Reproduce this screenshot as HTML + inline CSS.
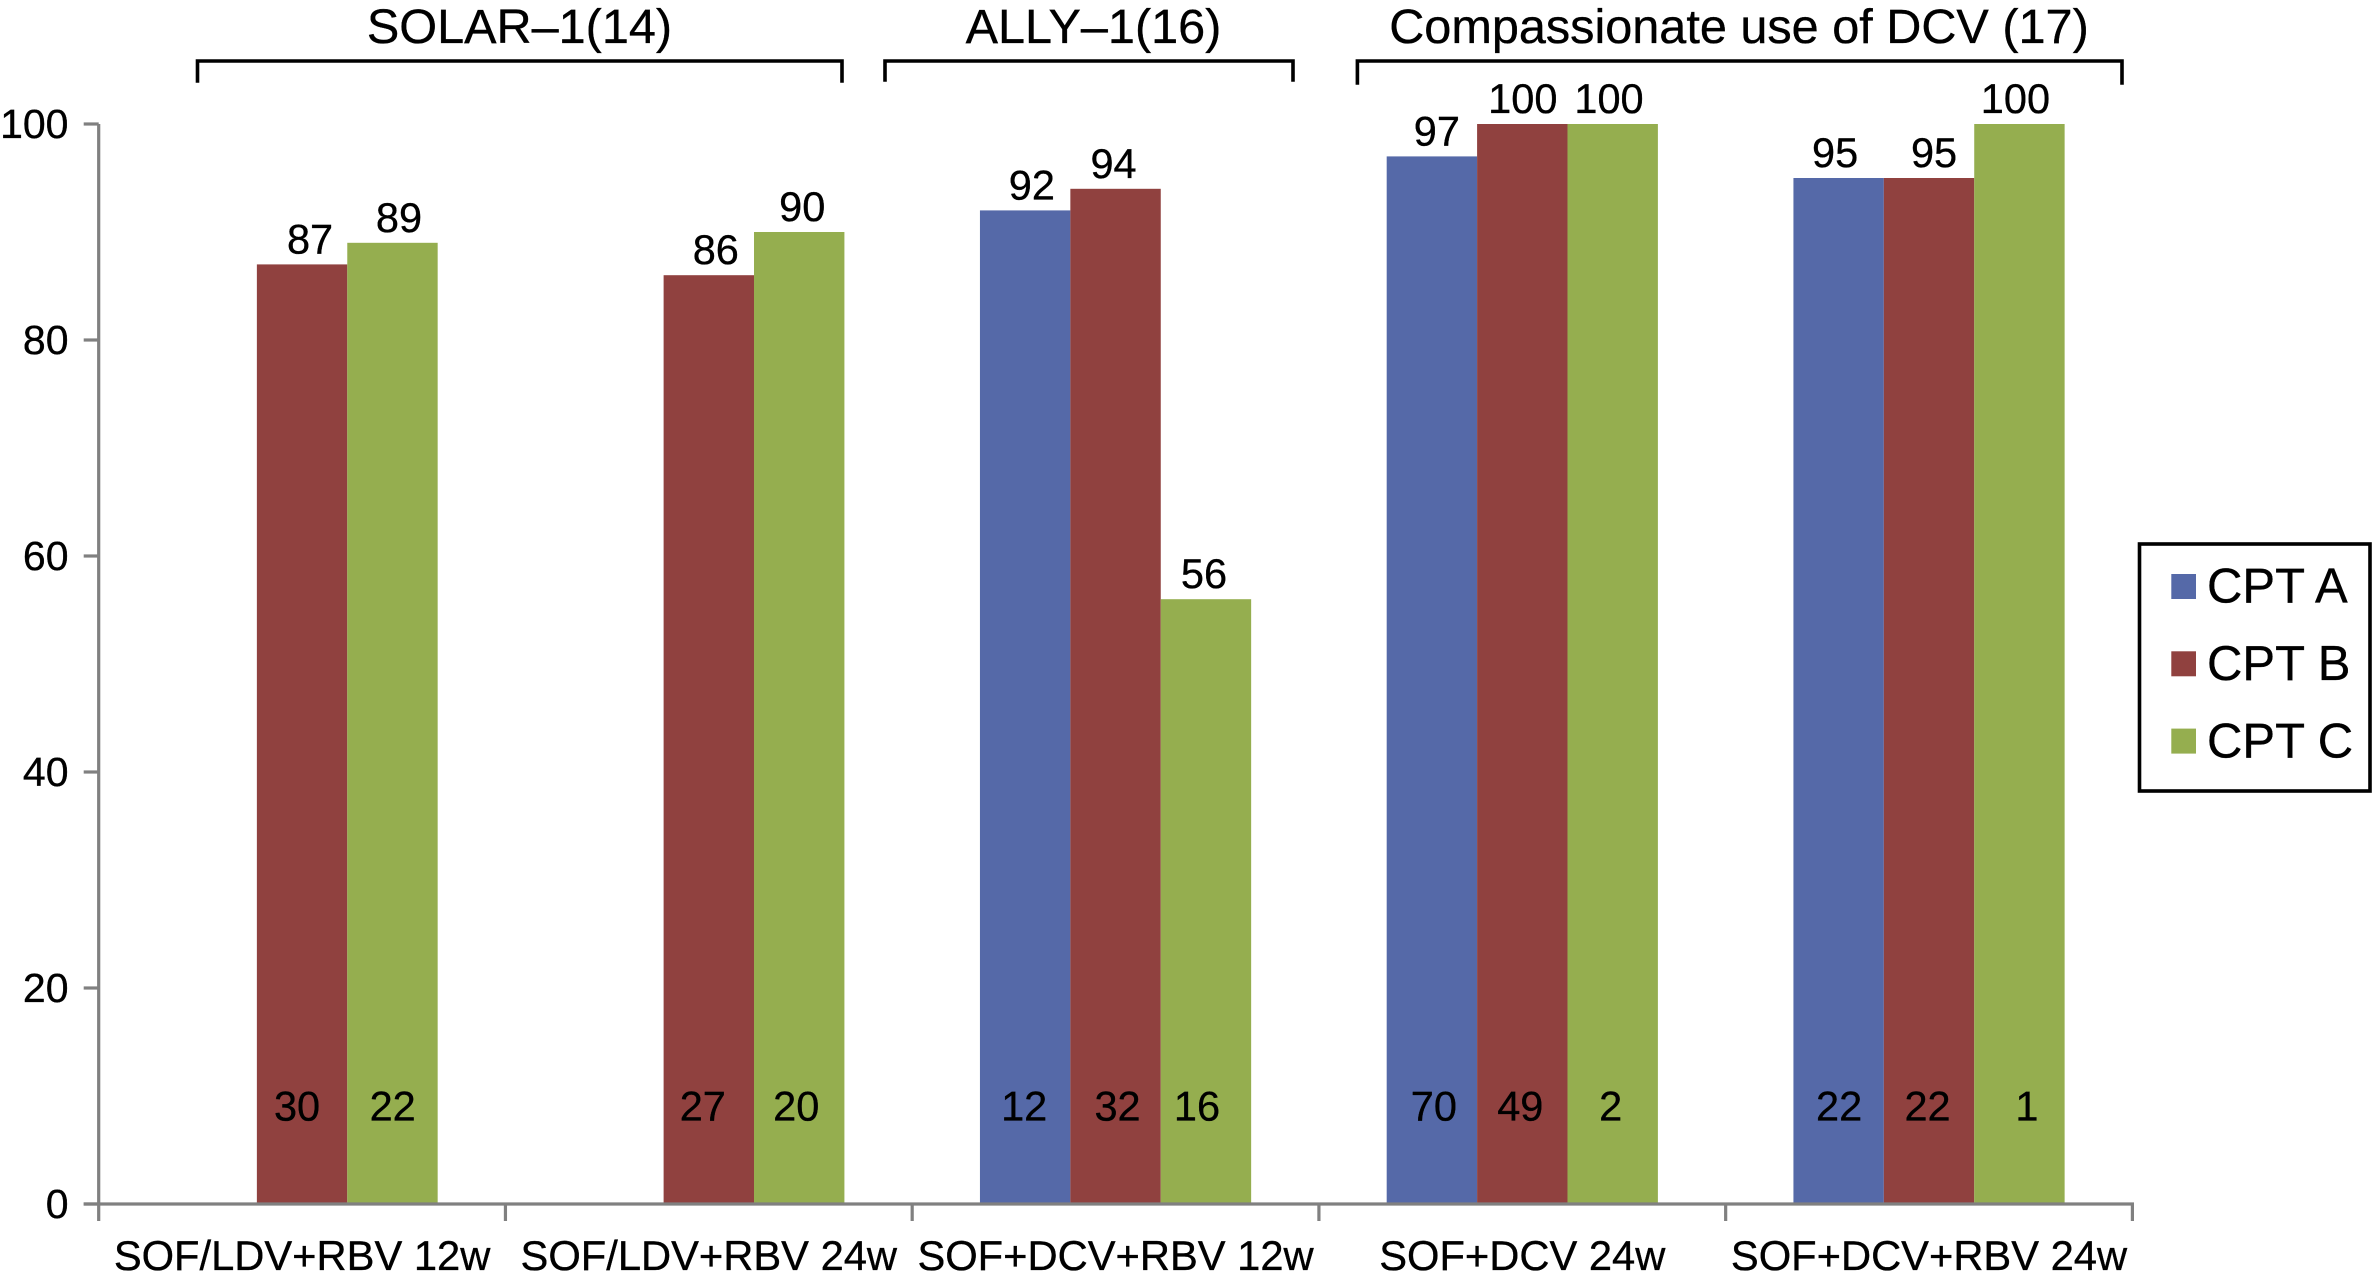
<!DOCTYPE html>
<html lang="en">
<head>
<meta charset="utf-8">
<title>SVR rates by CPT class</title>
<style>
html,body{margin:0;padding:0;background:#fff;}
svg{display:block;}
text{font-family:"Liberation Sans",Arial,sans-serif;fill:#000;white-space:pre;stroke:#000;stroke-width:0.35px;}
</style>
</head>
<body>
<svg id="chart" xmlns="http://www.w3.org/2000/svg" width="2372" height="1280" viewBox="0 0 2372 1280">
<rect x="0" y="0" width="2372" height="1280" fill="#fff"/>
</svg>
<script>
const categories = ["SOF/LDV+RBV 12w", "SOF/LDV+RBV 24w", "SOF+DCV+RBV 12w", "SOF+DCV 24w", "SOF+DCV+RBV 24w"];
const seriesNames = ["CPT A", "CPT B", "CPT C"];
const cptA = [null, null, 92, 97, 95];
const cptB = [87, 86, 94, 100, 95];
const cptC = [89, 90, 56, 100, 100];
const countA = [null, null, 12, 70, 22];
const countB = [30, 27, 32, 49, 22];
const countC = [22, 20, 16, 2, 1];
const yTicks = [0, 20, 40, 60, 80, 100];
const studyNames = ["SOLAR\u20131(14)", "ALLY\u20131(16)", "Compassionate use of DCV (17)"];

const SVG_NS = "http://www.w3.org/2000/svg";
const svg = document.getElementById("chart");
const colors = ["#5569a8", "#90413f", "#95ae4f"];
const AXIS = "#808080";
const plot = { left: 98.7, right: 2132.4, top: 124, bottom: 1204, max: 100, barWidth: 90.4 };

function xBand(i) { return plot.left + (plot.right - plot.left) * i / categories.length; }
function xCenter(i) { return xBand(i + 0.5); }
function xBar(i, s) { return xCenter(i) + (s - 1.5) * plot.barWidth; }
function yScale(v) { return plot.bottom - (plot.bottom - plot.top) * v / plot.max; }

function make(tag, attrs, parent) {
  const el = document.createElementNS(SVG_NS, tag);
  for (const k in attrs) el.setAttribute(k, attrs[k]);
  (parent || svg).appendChild(el);
  return el;
}

/* hand-placed label nudges from the original figure: [series][category], in px */
const valueNudge = [[0, 0, 6.7, 5, -3.5], [8, 7, -2, 0.5, 5], [6.5, 3, -2, -3.7, -4]];
const countNudge = [[0, 0, -1, 2, 0.5], [-5, -6, 2, -2, -1.5], [0.2, -3, -9, -2, 7.5]];

const values = [cptA, cptB, cptC];
const counts = [countA, countB, countC];

/* bars */
values.forEach(function (series, s) {
  series.forEach(function (v, i) {
    if (v === null) return;
    const top = yScale(v);
    const bar = make("rect", { x: xBar(i, s), y: top, width: plot.barWidth, height: plot.bottom - top, fill: colors[s] });
    
    
  });
});

/* axes */
const yAxis = make("line", { x1: plot.left, x2: plot.left, y1: plot.top, y2: plot.bottom + 17, stroke: AXIS, "stroke-width": 3.2 });


const xAxis = make("line", { x1: plot.left - 15, x2: plot.right + 1.6, y1: plot.bottom, y2: plot.bottom, stroke: AXIS, "stroke-width": 3.2 });



yTicks.forEach(function (t) {
  const y = yScale(t);
  const tick = make("line", { x1: plot.left - 15, x2: plot.left, y1: y, y2: y, stroke: AXIS, "stroke-width": 3.2 });
  
  
  const label = make("text", { x: 68.5, y: y + 14, "text-anchor": "end", "font-size": 41 });
  
  
  label.textContent = t;
});

for (let i = 1; i <= categories.length; i++) {
  const x = xBand(i);
  const tick = make("line", { x1: x, x2: x, y1: plot.bottom, y2: plot.bottom + 17, stroke: AXIS, "stroke-width": 3.2 });
  
  
}

categories.forEach(function (c, i) {
  const label = make("text", { x: xCenter(i), y: 1270, "text-anchor": "middle", "font-size": 41.7 });
  
  
  label.textContent = c;
});

/* labels on bars */
values.forEach(function (series, s) {
  series.forEach(function (v, i) {
    if (v === null) return;
    const cx = xBar(i, s) + plot.barWidth / 2;
    const top = make("text", { x: cx + valueNudge[s][i], y: yScale(v) - 11, "text-anchor": "middle", "font-size": 41.5 });
    
    
    top.textContent = v;
    const inner = make("text", { x: cx + countNudge[s][i], y: 1120.7, "text-anchor": "middle", "font-size": 41.5 });
    
    
    inner.textContent = counts[s][i];
  });
});

/* study brackets */
const brackets = [
  { l: 197.5, r: 842, b: 82.7, c: 519.5 },
  { l: 885, r: 1293, b: 81.7, c: 1093.5 },
  { l: 1357.4, r: 2122, b: 84.7, c: 1739 }
];
studyNames.forEach(function (name, i) {
  const b = brackets[i];
  const path = make("path", { d: "M" + b.l + " " + b.b + "V61H" + b.r + "V" + b.b, fill: "none", stroke: "#000", "stroke-width": 3.6 });
  
  
  const label = make("text", { x: b.c, y: 43, "text-anchor": "middle", "font-size": 48.6 });
  
  
  label.textContent = name;
});

/* legend */
const legendBox = make("rect", { x: 2139.5, y: 544, width: 230.5, height: 247, fill: "#fff", stroke: "#000", "stroke-width": 3.6 });


seriesNames.forEach(function (name, s) {
  const swatch = make("rect", { x: 2171.3, y: 574 + s * 77.3, width: 24.7, height: 25, fill: colors[s] });
  
  
  const label = make("text", { x: 2207, y: 602.7 + s * 77.3, "font-size": 49 });
  
  
  label.textContent = name;
});
</script>
</body>
</html>
